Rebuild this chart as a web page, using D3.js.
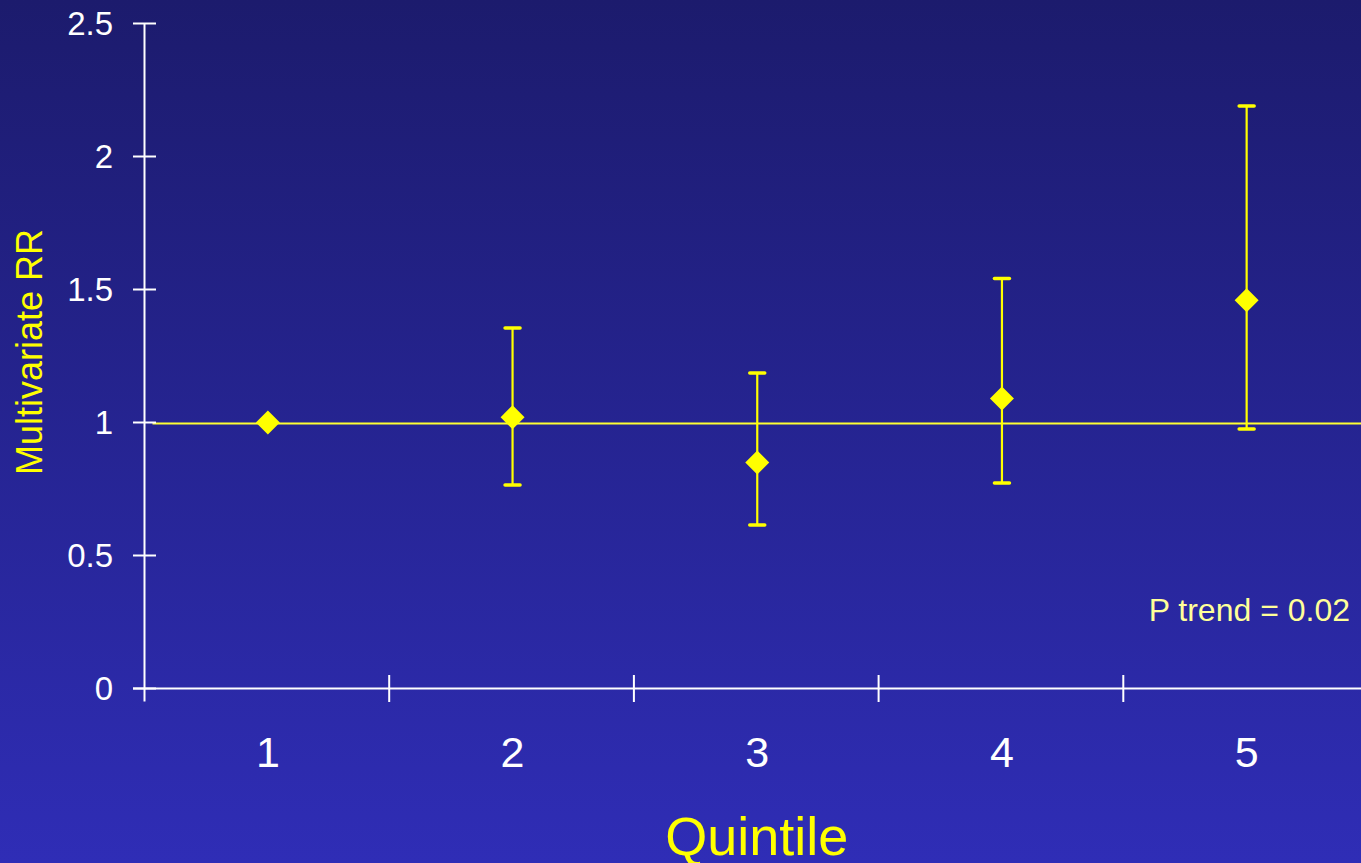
<!DOCTYPE html>
<html>
<head>
<meta charset="utf-8">
<script src="https://cdn.jsdelivr.net/npm/d3@7"></script>
<style>
  html, body { margin: 0; padding: 0; overflow: hidden; }
  svg { display: block; }
  text { font-family: "Liberation Sans", Arial, sans-serif; }
</style>
</head>
<body>
<svg id="chart" width="1361" height="863"></svg>
<script>
// Multivariate relative risk by quintile, with 95% confidence intervals
const quintiles = ["1", "2", "3", "4", "5"];
const rr      = [1.00, 1.02, 0.85, 1.09, 1.46];
const ciLow   = [null, 0.765, 0.615, 0.773, 0.976];
const ciHigh  = [null, 1.355, 1.186, 1.541, 2.19];
const yTicks  = [0, 0.5, 1, 1.5, 2, 2.5];
const yTickLabels = ["0", "0.5", "1", "1.5", "2", "2.5"];
const referenceRR = 1;
const pTrendText = "P trend = 0.02";

const W = 1361, H = 863;
const margin = { left: 144.5, right: -7, top: 23.5, bottom: 174.5 };

const svg = d3.select("#chart");

// background gradient
const defs = svg.append("defs");
const grad = defs.append("linearGradient")
  .attr("id", "bg").attr("x1", 0).attr("y1", 0).attr("x2", 0).attr("y2", 1);
grad.append("stop").attr("offset", "0%").attr("stop-color", "#1c1b6d");
grad.append("stop").attr("offset", "100%").attr("stop-color", "#2f2db6");
svg.append("rect").attr("width", W).attr("height", H).attr("fill", "url(#bg)");

const x = d3.scaleBand()
  .domain(quintiles)
  .range([margin.left, W - margin.right])
  .paddingInner(0).paddingOuter(0);

const y = d3.scaleLinear()
  .domain([0, 2.5])
  .range([H - margin.bottom, margin.top]);

const data = quintiles.map((q, i) => ({ q, rr: rr[i], lo: ciLow[i], hi: ciHigh[i] }));

// reference line at RR = 1
svg.append("line")
  .attr("x1", margin.left + 8).attr("x2", W)
  .attr("y1", y(referenceRR) + 1).attr("y2", y(referenceRR) + 1)
  .attr("stroke", "#ffff33").attr("stroke-width", 2);

// y axis
const yAxis = svg.append("g").attr("transform", `translate(${margin.left},0)`);
yAxis.append("line")
  .attr("x1", 0).attr("x2", 0)
  .attr("y1", y(2.5)).attr("y2", y(0) + 13)
  .attr("stroke", "#ffffff").attr("stroke-width", 2);
yAxis.selectAll(".ytick").data(yTicks).join("line")
  .attr("x1", -11.5).attr("x2", 11.5)
  .attr("y1", d => y(d)).attr("y2", d => y(d))
  .attr("stroke", "#ffffff").attr("stroke-width", 2);
yAxis.selectAll(".ylab").data(yTicks).join("text")
  .attr("x", -31.5).attr("y", d => y(d))
  .attr("dy", "0.36em")
  .attr("text-anchor", "end")
  .attr("fill", "#ffffff")
  .attr("font-size", 33)
  .text((d, i) => yTickLabels[i]);

// x axis
const xAxis = svg.append("g").attr("transform", `translate(0,${y(0)})`);
xAxis.append("line")
  .attr("x1", margin.left - 11.5).attr("x2", W)
  .attr("y1", 0).attr("y2", 0)
  .attr("stroke", "#ffffff").attr("stroke-width", 2);
const boundaries = quintiles.slice(1).map(q => x(q)).concat([x(quintiles[4]) + x.bandwidth()]);
xAxis.selectAll(".xtick").data(boundaries).join("line")
  .attr("x1", d => d).attr("x2", d => d)
  .attr("y1", -13.5).attr("y2", 13.5)
  .attr("stroke", "#ffffff").attr("stroke-width", 2);

// category centres sit slightly right of each band's midpoint
const cx = d => x(d.q !== undefined ? d.q : d) + x.bandwidth() / 2 + 1;

xAxis.selectAll(".xlab").data(quintiles).join("text")
  .attr("x", cx)
  .attr("y", 78)
  .attr("text-anchor", "middle")
  .attr("fill", "#ffffff")
  .attr("font-size", 43)
  .text(d => d);

// axis titles
svg.append("text")
  .attr("x", margin.left + (W - margin.right - margin.left) / 2 + 0.5)
  .attr("y", 855)
  .attr("text-anchor", "middle")
  .attr("fill", "#ffff00")
  .attr("font-size", 54)
  .text("Quintile");

svg.append("text")
  .attr("transform", `translate(42,${y(1.265)}) rotate(-90)`)
  .attr("text-anchor", "middle")
  .attr("fill", "#ffff00")
  .attr("font-size", 36)
  .text("Multivariate RR");

// confidence intervals
const withCI = data.filter(d => d.lo !== null);
const bars = svg.append("g");
bars.selectAll(".ci").data(withCI).join("line")
  .attr("x1", cx).attr("x2", cx)
  .attr("y1", d => y(d.lo)).attr("y2", d => y(d.hi))
  .attr("stroke", "#ffff00").attr("stroke-width", 2.2);
["lo", "hi"].forEach(k => {
  bars.selectAll(".cap-" + k).data(withCI).join("line")
    .attr("x1", d => cx(d) - 7.5).attr("x2", d => cx(d) + 7.5)
    .attr("y1", d => y(d[k])).attr("y2", d => y(d[k]))
    .attr("stroke", "#ffff00").attr("stroke-width", 3.5)
    .attr("stroke-linecap", "round");
});

// point estimates as diamonds
const half = 12;
svg.append("g").selectAll(".pt").data(data).join("path")
  .attr("d", d => {
    const px = cx(d), py = y(d.rr);
    return `M${px},${py - half}L${px + half},${py}L${px},${py + half}L${px - half},${py}Z`;
  })
  .attr("fill", "#ffff00");

// trend test annotation
svg.append("text")
  .attr("x", 1350).attr("y", 621)
  .attr("text-anchor", "end")
  .attr("fill", "#ffff99")
  .attr("font-size", 32)
  .text(pTrendText);
</script>
</body>
</html>
